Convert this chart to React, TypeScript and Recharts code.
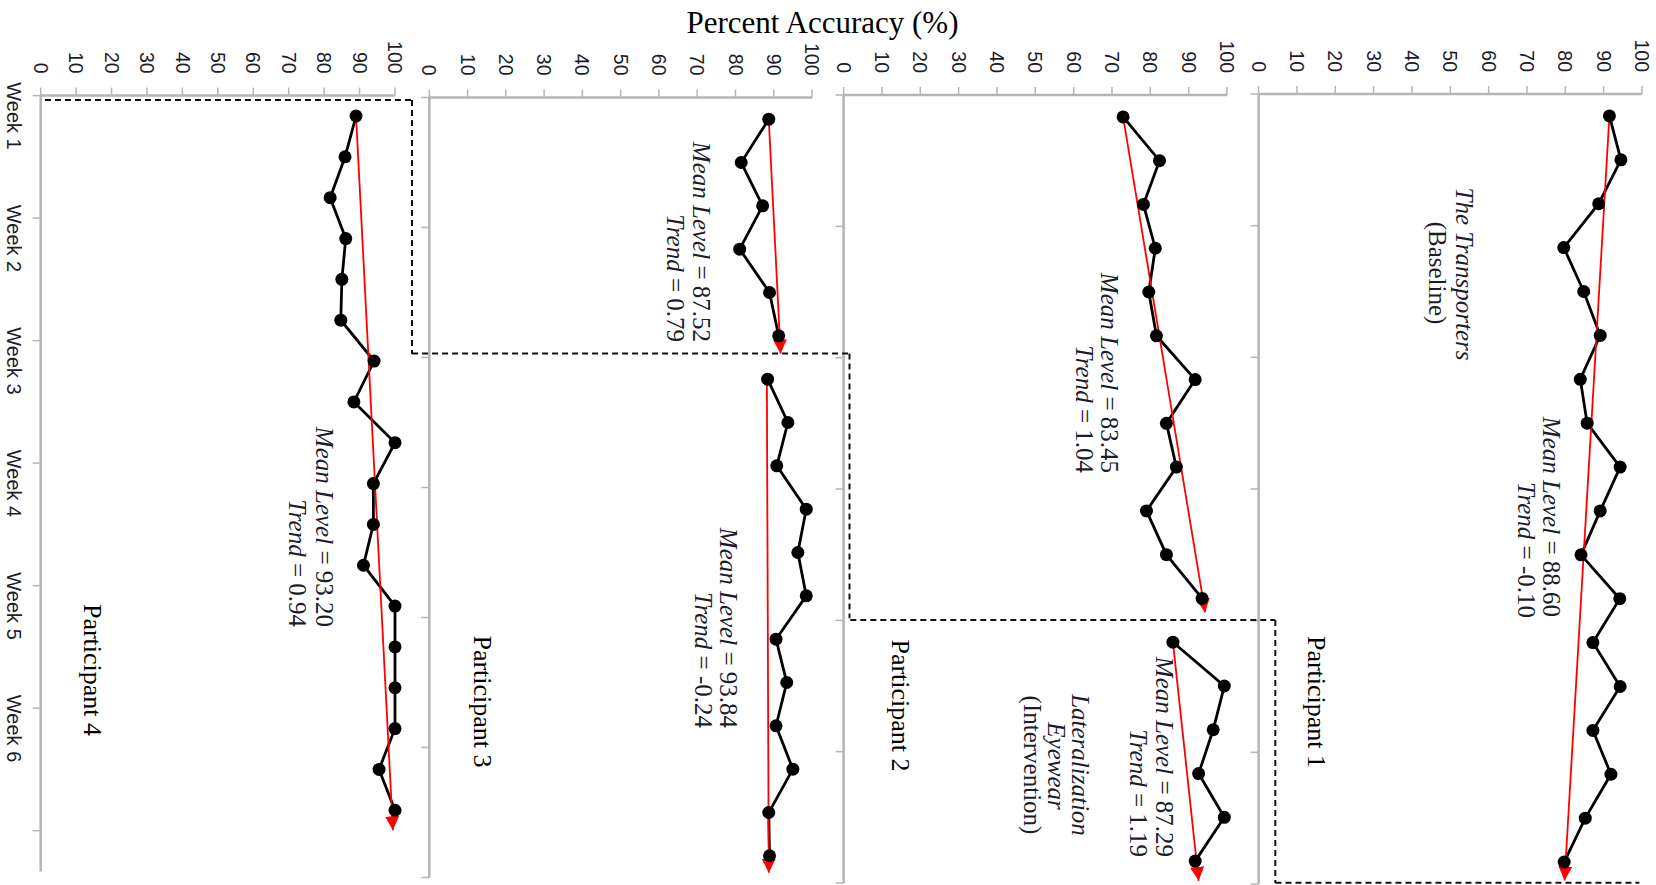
import React from 'react';
import { LineChart, Line, XAxis, YAxis, ReferenceLine } from 'recharts';

// sessions (three per week), percent scale and week labels
const sessions = [1, 2, 3, 4, 5, 6, 7, 8, 9, 10, 11, 12, 13, 14, 15, 16, 17, 18];
const percentTicks = [0, 10, 20, 30, 40, 50, 60, 70, 80, 90, 100];
const weekLabels = ['Week 1', 'Week 2', 'Week 3', 'Week 4', 'Week 5', 'Week 6'];
const weekStarts = [1, 4, 7, 10, 13, 16];
const weekBounds = [0.5, 3.5, 6.5, 9.5, 12.5, 15.5, 18.5];

// percent accuracy per session
const p1Accuracy = [91.5, 94.5, 88.7, 79.6, 84.8, 89.1, 83.9, 85.7, 94.3, 89.1, 84.1, 94.2, 87.2, 94.3, 87.2, 91.9, 85.2, 79.7];
const p2Accuracy = [72.9, 82.4, 78.2, 81.3, 79.6, 81.6, 91.7, 84.2, 86.8, 79.0, 84.2, 93.5, 85.9, 99.3, 96.4, 92.6, 99.3, 91.7];
const p3Accuracy = [88.7, 81.5, 87.1, 81.1, 88.9, 91.3, 88.4, 93.7, 90.8, 98.5, 96.3, 98.5, 90.6, 93.4, 90.6, 95.0, 88.7, 88.9];
const p4Accuracy = [89.0, 85.9, 81.7, 86.1, 85.0, 84.7, 94.1, 88.4, 100, 93.9, 93.9, 91.1, 100, 100, 100, 100, 95.5, 100];

// how many sessions each participant spent in baseline
const p1Baseline = 18;
const p2Baseline = 12;
const p3Baseline = 6;
const p4Baseline = 0;

// trend lines: first point to arrow tip
const p1Trends = [[{ session: 1, value: 91.5 }, { session: 18.42, value: 79.8 }]];
const p2Trends = [
  [{ session: 1, value: 72.9 }, { session: 12.32, value: 94.3 }],
  [{ session: 13, value: 85.9 }, { session: 18.45, value: 92.6 }],
];
const p3Trends = [
  [{ session: 1, value: 88.7 }, { session: 6.41, value: 91.8 }],
  [{ session: 7, value: 88.2 }, { session: 18.39, value: 88.7 }],
];
const p4Trends = [[{ session: 1, value: 89.0 }, { session: 18.49, value: 99.4 }]];

// dashed phase-change staircase, pieces per panel (session, percent)
const p1Phase = [[{ x: 18.47, y: 4.4 }, { x: 18.47, y: 99.3 }]];
const p2Phase = [
  [{ x: 12.49, y: 1.75 }, { x: 12.49, y: 112.6 }],
  [{ x: 12.49, y: 112.6 }, { x: 18.5, y: 112.6 }],
];
const p3Phase = [
  [{ x: 6.41, y: -4.5 }, { x: 6.41, y: 109.8 }],
  [{ x: 6.41, y: 109.8 }, { x: 12.52, y: 109.8 }],
];
const p4Phase = [
  [{ x: 0.61, y: 1.2 }, { x: 0.61, y: 104.8 }],
  [{ x: 0.61, y: 104.8 }, { x: 6.83, y: 104.8 }],
];

const AXIS = '#b5b5b5';
const INK = '#1c1c2a';
const SANS = '"Liberation Sans", Arial, sans-serif';
const SERIF = '"Liberation Serif", "Times New Roman", serif';

// the chart is laid out upright (885 x 1656) and then turned a quarter clockwise
const W = 885;
const MT = 10;
const XH = 40;

const layout = [
  { values: p1Accuracy, baseline: p1Baseline, trends: p1Trends, phase: p1Phase, top: 14.3, bottom: 397.7, left: 94, right: 884, max: 18.5, weeks: false },
  { values: p2Accuracy, baseline: p2Baseline, trends: p2Trends, phase: p2Phase, top: 429.3, bottom: 812.7, left: 95, right: 883, max: 18.5, weeks: false },
  { values: p3Accuracy, baseline: p3Baseline, trends: p3Trends, phase: p3Phase, top: 844, bottom: 1226.7, left: 97.5, right: 877.5, max: 18.5, weeks: false },
  { values: p4Accuracy, baseline: p4Baseline, trends: p4Trends, phase: p4Phase, top: 1261, bottom: 1615.3, left: 95.6, right: 871.5, max: 19.5, weeks: true },
];

function sessionTick(props: any) {
  const { x, y, payload } = props;
  const v = payload.value;
  if (!Number.isInteger(v)) {
    return <line x1={x} y1={y} x2={x} y2={y + 8} stroke={AXIS} strokeWidth={1.5} />;
  }
  return (
    <text x={x} y={y + 34} textAnchor="middle" fontFamily={SANS} fontSize={20} fill={INK}>
      {weekLabels[weekStarts.indexOf(v)]}
    </text>
  );
}

function Panel({ p }: { p: any }) {
  const rows = p.values.map((v: number, i: number) => ({
    session: sessions[i],
    base: i < p.baseline ? v : null,
    intv: i >= p.baseline ? v : null,
  }));
  const xTicks = p.weeks ? [...weekBounds, ...weekStarts].sort((a, b) => a - b) : weekBounds;
  const dot = { r: 6.5, fill: '#000', stroke: '#000', strokeWidth: 0 };

  return (
    <div style={{ position: 'absolute', left: 0, top: p.top - MT }}>
      <LineChart
        width={W}
        height={p.bottom - p.top + MT + XH}
        data={rows}
        margin={{ top: MT, right: W - p.right, bottom: 0, left: 0 }}
      >
        <XAxis
          type="number"
          dataKey="session"
          domain={[0.5, p.max]}
          ticks={xTicks}
          interval={0}
          tick={sessionTick}
          tickLine={false}
          tickSize={0}
          tickMargin={0}
          height={XH}
          axisLine={{ stroke: AXIS, strokeWidth: 2.5 }}
        />
        <YAxis
          type="number"
          domain={[0, 100]}
          ticks={percentTicks}
          interval={0}
          width={p.left}
          tickSize={8}
          tickMargin={14}
          tickLine={{ stroke: AXIS, strokeWidth: 1.5 }}
          axisLine={{ stroke: AXIS, strokeWidth: 2.5 }}
          tick={{ fill: INK, fontSize: 19.5, fontFamily: SANS }}
        />
        {p.phase.map((seg: any, i: number) => (
          <ReferenceLine
            key={'ph' + i}
            segment={seg}
            ifOverflow="visible"
            stroke="#111"
            strokeWidth={2}
            strokeDasharray="6 4"
          />
        ))}
        <Line dataKey="base" stroke="#000" strokeWidth={2.8} dot={dot} activeDot={false} isAnimationActive={false} />
        <Line dataKey="intv" stroke="#000" strokeWidth={2.8} dot={dot} activeDot={false} isAnimationActive={false} />
        {p.trends.map((t: any, i: number) => (
          <Line
            key={'tr' + i}
            data={t}
            dataKey="value"
            stroke="#ff0000"
            strokeWidth={1.8}
            dot={false}
            activeDot={false}
            markerEnd="url(#trendArrow)"
            isAnimationActive={false}
          />
        ))}
      </LineChart>
    </div>
  );
}

function Stat({ x, y, label, value }: { x: number; y: number; label: string; value: string }) {
  return (
    <text x={x} y={y} textAnchor="end" fontFamily={SERIF} fontSize={25} fill={INK}>
      <tspan fontStyle="italic">{label}</tspan>
      {' = ' + value}
    </text>
  );
}

export default function App() {
  return (
    <div style={{ position: 'fixed', left: 0, top: 0, width: 1656, height: 885, overflow: 'hidden', background: '#fff' }}>
      <style>{'.recharts-surface{overflow:visible}'}</style>
      <svg width={0} height={0} style={{ position: 'absolute' }}>
        <defs>
          <marker
            id="trendArrow"
            viewBox="0 0 10 10"
            refX={10}
            refY={5}
            markerWidth={14}
            markerHeight={14}
            markerUnits="userSpaceOnUse"
            orient="auto"
          >
            <path d="M0,0 L10,5 L0,10 z" fill="#ff0000" />
          </marker>
        </defs>
      </svg>
      <div
        style={{
          position: 'absolute',
          left: 0,
          top: 0,
          width: W,
          height: 1656,
          transformOrigin: '0 0',
          transform: 'translateX(1656px) rotate(90deg)',
        }}
      >
        {layout.map((p, i) => (
          <Panel key={i} p={p} />
        ))}
        <svg width={W} height={1656} style={{ position: 'absolute', left: 0, top: 0, pointerEvents: 'none' }}>
          <text transform="translate(33, 833.5) rotate(-90)" textAnchor="middle" fontFamily={SERIF} fontSize={31} fill="#000">
            Percent Accuracy (%)
          </text>

          {/* Participant 1 */}
          <text x={274} y={200.5} textAnchor="middle" fontFamily={SERIF} fontSize={25} fontStyle="italic" fill={INK}>The Transporters</text>
          <text x={273} y={227} textAnchor="middle" fontFamily={SERIF} fontSize={25} fill={INK}>(Baseline)</text>
          <Stat x={617} y={113.5} label="Mean Level" value="88.60" />
          <Stat x={618} y={138.5} label="Trend" value="-0.10" />
          <text x={702} y={348} textAnchor="middle" fontFamily={SERIF} fontSize={26} fill="#000">Participant 1</text>

          {/* Participant 2 */}
          <Stat x={473} y={555.5} label="Mean Level" value="83.45" />
          <Stat x={473} y={580.5} label="Trend" value="1.04" />
          <Stat x={857} y={500.5} label="Mean Level" value="87.29" />
          <Stat x={857} y={526} label="Trend" value="1.19" />
          <text x={765} y={584.5} textAnchor="middle" fontFamily={SERIF} fontSize={25} fontStyle="italic" fill={INK}>Lateralization</text>
          <text x={766} y={608} textAnchor="middle" fontFamily={SERIF} fontSize={25} fontStyle="italic" fill={INK}>Eyewear</text>
          <text x={765} y={632} textAnchor="middle" fontFamily={SERIF} fontSize={25} fill={INK}>(Intervention)</text>
          <text x={705.5} y={764} textAnchor="middle" fontFamily={SERIF} fontSize={26} fill="#000">Participant 2</text>

          {/* Participant 3 */}
          <Stat x={342} y={963.5} label="Mean Level" value="87.52" />
          <Stat x={342} y={989.5} label="Trend" value="0.79" />
          <Stat x={728} y={936} label="Mean Level" value="93.84" />
          <Stat x={728} y={961} label="Trend" value="-0.24" />
          <text x={701.5} y={1182} textAnchor="middle" fontFamily={SERIF} fontSize={26} fill="#000">Participant 3</text>

          {/* Participant 4 */}
          <Stat x={627} y={1340.5} label="Mean Level" value="93.20" />
          <Stat x={627} y={1367.5} label="Trend" value="0.94" />
          <text x={670} y={1572} textAnchor="middle" fontFamily={SERIF} fontSize={26} fill="#000">Participant 4</text>
        </svg>
      </div>
    </div>
  );
}
